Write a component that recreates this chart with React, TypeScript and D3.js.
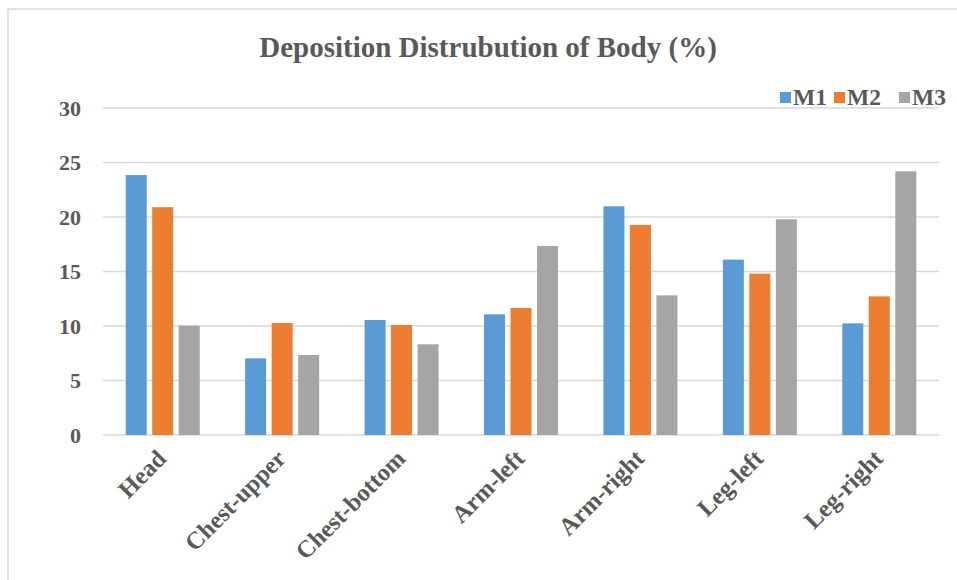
import React from "react";
import * as d3 from "d3";

const categories = ["Head", "Chest-upper", "Chest-bottom", "Arm-left", "Arm-right", "Leg-left", "Leg-right"];
const seriesNames = ["M1", "M2", "M3"];
const m1 = [23.85, 7.03, 10.55, 11.07, 20.98, 16.09, 10.24];
const m2 = [20.9, 10.27, 10.09, 11.65, 19.27, 14.8, 12.72];
const m3 = [10.03, 7.34, 8.32, 17.34, 12.81, 19.79, 24.19];
const yTicks = [0, 5, 10, 15, 20, 25, 30];
const colors = ["#5b9bd5", "#ed7d31", "#a5a5a5"];
const title = "Deposition Distrubution of Body (%)";

const W = 957;
const H = 580;
const left = 103;
const right = 939;
const top = 108;
const bottom = 435;
const font = "'Liberation Serif', 'Times New Roman', serif";
const textColor = "#595959";

export default function App() {
  const values = [m1, m2, m3];
  const x0 = d3.scaleBand<string>().domain(categories).range([left, right]);
  const groupW = 74;
  const x1 = d3.scaleBand<string>().domain(seriesNames).range([0, groupW]).paddingInner(0.2075);
  const y = d3.scaleLinear().domain([0, 30]).range([bottom, top]);

  return (
    <svg
      width={W}
      height={H}
      style={{ position: "absolute", left: 0, top: 0, background: "#fff" }}
      fontFamily={font}
    >
      <rect x={0} y={0} width={W} height={H} fill="#fff" />
      <rect x={8} y={9} width={W + 20} height={H + 20} fill="none" stroke="#d9d9d9" strokeWidth={1.5} />
      <text x={488} y={57} textAnchor="middle" fontSize={29} fontWeight="bold" fill={textColor}>
        {title}
      </text>
      {yTicks.map((t) => (
        <g key={t}>
          <line x1={left} x2={right} y1={y(t)} y2={y(t)} stroke="#d9d9d9" strokeWidth={1.5} />
          <text x={81} y={y(t)} dy="0.35em" textAnchor="end" fontSize={22} fontWeight="bold" fill={textColor}>
            {t}
          </text>
        </g>
      ))}
      {categories.map((c, i) => {
        const cx = (x0(c) ?? 0) + x0.bandwidth() / 2;
        return (
          <g key={c}>
            {seriesNames.map((s, j) => {
              const v = values[j][i];
              const bx = cx - groupW / 2 + (x1(s) ?? 0);
              return (
                <rect
                  key={s}
                  x={bx}
                  y={y(v)}
                  width={x1.bandwidth()}
                  height={y(0) - y(v)}
                  fill={colors[j]}
                />
              );
            })}
            <text
              transform={`translate(${cx + 5},${bottom + 25}) rotate(-45)`}
              textAnchor="end"
              fontSize={24.5}
              fontWeight="bold"
              fill={textColor}
            >
              {c}
            </text>
          </g>
        );
      })}
      {seriesNames.map((s, j) => {
        const lx = [780, 834, 899][j];
        return (
          <g key={s}>
            <rect x={lx} y={92} width={11} height={11} fill={colors[j]} />
            <text x={lx + 13} y={105} fontSize={23.5} fontWeight="bold" fill={textColor}>
              {s}
            </text>
          </g>
        );
      })}
    </svg>
  );
}
